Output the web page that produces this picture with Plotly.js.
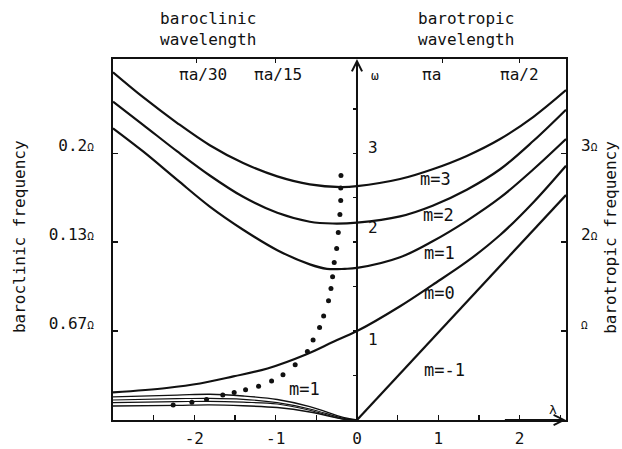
<!DOCTYPE html>
<html><head><meta charset="utf-8">
<script src="https://cdn.plot.ly/plotly-3.0.1.min.js"></script>
<style>html,body{margin:0;padding:0;background:#fff}</style>
</head><body><div id="chart" style="width:622px;height:449px"></div>
<script>
// ---------- data ----------
const m3X = [-3.0,-2.63,-2.21,-1.81,-1.40,-0.98,-0.58,-0.2,0,0.53,0.93,1.35,1.76,2.17,2.57];
const m3Y = [3.91,3.63,3.34,3.09,2.89,2.74,2.65,2.62,2.63,2.71,2.82,2.97,3.16,3.41,3.71];
const m2X = [-3.0,-2.63,-2.21,-1.81,-1.40,-0.98,-0.58,-0.3,0,0.53,0.93,1.35,1.76,2.17,2.57];
const m2Y = [3.58,3.32,3.02,2.75,2.51,2.33,2.23,2.21,2.22,2.29,2.41,2.59,2.82,3.14,3.49];
const m1X = [-3.0,-2.63,-2.21,-1.81,-1.40,-0.98,-0.58,-0.37,-0.15,0,0.53,0.93,1.35,1.76,2.17,2.57];
const m1Y = [3.28,3.02,2.70,2.40,2.14,1.91,1.75,1.70,1.70,1.71,1.83,2.01,2.24,2.50,2.82,3.16];
const m0X = [-3.0,-2.34,-1.93,-1.52,-1.10,-0.62,-0.29,0,0.53,0.93,1.35,1.76,2.17,2.57];
const m0Y = [0.31,0.36,0.41,0.49,0.58,0.74,0.88,1.0,1.28,1.52,1.78,2.08,2.45,2.86];
const mm1X = [0, 2.57];
const mm1Y = [0, 2.53];
const dotX = [-0.197,-0.20,-0.20,-0.21,-0.23,-0.25,-0.28,-0.30,-0.32,-0.35,-0.41,-0.46,-0.54,-0.61,-0.76,-0.91,-1.05,-1.21,-1.37,-1.51,-1.65,-1.85,-2.03,-2.26];
const dotY = [2.75,2.61,2.47,2.31,2.11,1.93,1.77,1.61,1.48,1.34,1.17,1.04,0.90,0.77,0.62,0.51,0.44,0.38,0.34,0.31,0.28,0.23,0.20,0.17];
const thinX = [-3.0,-2.21,-1.81,-1.40,-0.98,-0.58,-0.17,0];
const thin1Y = [0.26,0.28,0.29,0.27,0.23,0.15,0.03,0];
const thin2Y = [0.225,0.24,0.244,0.233,0.195,0.124,0.02,0];
const thin3Y = [0.195,0.206,0.21,0.20,0.18,0.11,0.01,0];
const thin4Y = [0.157,0.165,0.17,0.16,0.14,0.09,0.01,0];

const bottomTickVals = [-2.5,-2,-1.5,-1,-0.5,0,0.5,1,1.5,2,2.5];
const bottomTickText = ['','-2','','-1','','0','','1','','2',''];
const topTickVals = [-1.97,-1.0,1.05,2.0];
const topTickText = ['πa/30','πa/15','πa','πa/2'];
const omegaTickVals = [0.5,1,1.5,2,2.5,3,3.5];
const omegaLabelText = ['3','2','1'];
const sideTickVals = [1,2,3];
const leftTickText = ['0.67Ω','0.13Ω','0.2Ω'];
const rightTickText = ['Ω','2Ω','3Ω'];
const curveLabels = [
  {t:'m=3', x:0.97, y:2.71},
  {t:'m=2', x:1.0, y:2.30},
  {t:'m=1', x:1.01, y:1.88},
  {t:'m=0', x:1.02, y:1.43},
  {t:'m=-1', x:1.07, y:0.56},
  {t:'m=1', x:-0.64, y:0.35}
];

// ---------- layout ----------
const xRange = [-3.0, 2.57];
const yRange = [0, 4.06];
const FONT = 'DejaVu Sans Mono, monospace';
const INK = '#111';
const smallOmega = s => s.replace('Ω', "<span style='font-size:11px'>Ω</span>");

const line = (x, y, w) => ({x, y, type:'scatter', mode:'lines', line:{color:INK, width:w, shape:'spline', smoothing:1.0}, hoverinfo:'skip', showlegend:false});

const traces = [
  line(m3X, m3Y, 2.2), line(m2X, m2Y, 2.2), line(m1X, m1Y, 2.2), line(m0X, m0Y, 2.2),
  {x:mm1X, y:mm1Y, type:'scatter', mode:'lines', line:{color:INK, width:2.2}, showlegend:false},
  line(thinX, thin1Y, 1.4), line(thinX, thin2Y, 1.2), line(thinX, thin3Y, 1.2), line(thinX, thin4Y, 1.4),
  {x:dotX, y:dotY, type:'scatter', mode:'markers', marker:{color:INK, size:5}, showlegend:false},
  {x:[], y:[], xaxis:'x2', yaxis:'y', type:'scatter', showlegend:false},
  {x:[], y:[], xaxis:'x', yaxis:'y2', type:'scatter', showlegend:false},
  {x:[], y:[], xaxis:'x', yaxis:'y3', type:'scatter', showlegend:false}
];

const zeroPos = (0 - xRange[0]) / (xRange[1] - xRange[0]);
const txt = (size) => ({family:FONT, size, color:INK});

const annotations = [];
curveLabels.forEach(c => annotations.push({x:c.x, y:c.y, xref:'x', yref:'y', text:c.t, showarrow:false, xanchor:'center', font:txt(17)}));
const topLabelX = [-1.89, -0.97, 0.92, 2.0];
topTickText.forEach((t,i) => annotations.push({x:topLabelX[i], y:3.89, xref:'x', yref:'y', text:t, showarrow:false, xanchor:'center', font:txt(16)}));
const omegaLabelY = [3.06, 2.17, 0.9];
omegaLabelText.forEach((t,i) => annotations.push({x:0.2, y:omegaLabelY[i], xref:'x', yref:'y', text:t, showarrow:false, xanchor:'center', font:txt(16)}));
annotations.push({x:0.22, y:3.87, xref:'x', yref:'y', text:'ω', showarrow:false, xanchor:'center', font:txt(13)});
annotations.push({x:2.41, y:0.12, xref:'x', yref:'y', text:'λ', showarrow:false, xanchor:'center', font:txt(13)});
// axis arrows
annotations.push({x:0, y:yRange[1], ax:0, ay:0, xref:'x', yref:'y', axref:'x', ayref:'y', showarrow:true, arrowhead:5, arrowsize:1, arrowwidth:2, arrowcolor:INK, text:''});
annotations.push({x:xRange[1], y:0, ax:1.8, ay:0, xref:'x', yref:'y', axref:'x', ayref:'y', showarrow:true, arrowhead:5, arrowsize:1, arrowwidth:2, arrowcolor:INK, text:''});
// titles
annotations.push({x:0.21, y:1.083, xref:'paper', yref:'paper', text:'baroclinic<br>wavelength', showarrow:false, xanchor:'center', yanchor:'middle', font:txt(16)});
annotations.push({x:0.779, y:1.083, xref:'paper', yref:'paper', text:'barotropic<br>wavelength', showarrow:false, xanchor:'center', yanchor:'middle', font:txt(16)});
annotations.push({x:-0.205, y:0.507, xref:'paper', yref:'paper', text:'baroclinic frequency', textangle:-90, showarrow:false, xanchor:'center', yanchor:'middle', font:txt(16)});
annotations.push({x:1.099, y:0.507, xref:'paper', yref:'paper', text:'barotropic frequency', textangle:-90, showarrow:false, xanchor:'center', yanchor:'middle', font:txt(16)});

const layout = {
  width:622, height:449,
  margin:{l:113, r:56, t:59, b:29},
  paper_bgcolor:'#fff', plot_bgcolor:'#fff',
  showlegend:false,
  font:{family:FONT, size:16, color:INK},
  xaxis:{range:xRange, showgrid:false, zeroline:false, showline:true, mirror:true, linecolor:INK, linewidth:2,
    ticks:'inside', ticklen:5, tickwidth:1.5, tickcolor:INK, tickvals:bottomTickVals, ticktext:bottomTickText,
    tickfont:txt(16), ticklabelstandoff:3},
  xaxis2:{range:xRange, overlaying:'x', side:'top', anchor:'y', showgrid:false, zeroline:false, showline:false,
    ticks:'inside', ticklen:4, tickwidth:1.2, tickcolor:INK, tickvals:topTickVals, showticklabels:false},
  yaxis:{range:yRange, showgrid:false, zeroline:false, showline:true, mirror:true, linecolor:INK, linewidth:2,
    ticks:'inside', ticklen:5, tickwidth:1.5, tickcolor:INK, tickvals:sideTickVals, ticktext:leftTickText.map(smallOmega),
    tickfont:txt(16), ticklabelstandoff:14, ticklabelshift:-8},
  yaxis2:{range:yRange, overlaying:'y', anchor:'free', position:zeroPos, side:'left', showgrid:false, zeroline:false, showline:false,
    ticks:'outside', ticklen:4, tickwidth:1.5, tickcolor:INK, tickvals:omegaTickVals, showticklabels:false},
  yaxis3:{range:yRange, overlaying:'y', anchor:'x', side:'right', showgrid:false, zeroline:false, showline:false,
    ticks:'inside', ticklen:5, tickwidth:1.5, tickcolor:INK, tickvals:sideTickVals, ticktext:rightTickText.map(smallOmega),
    tickfont:txt(16), ticklabelstandoff:14, ticklabelshift:-8},
  annotations
};

Plotly.newPlot('chart', traces, layout, {staticPlot:true, displayModeBar:false});
</script></body></html>
